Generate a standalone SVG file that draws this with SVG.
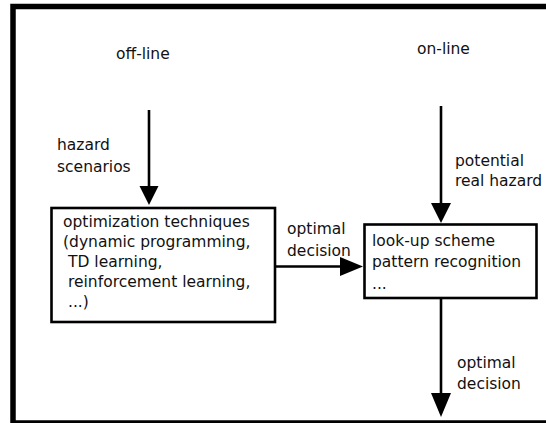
<svg xmlns="http://www.w3.org/2000/svg" width="546" height="423" viewBox="0 0 546 423">
  <style>
    text { font-family: "DejaVu Sans", Verdana, sans-serif; font-size: 15.5px; fill: #111; }
    .frame { fill: none; stroke: #000; stroke-width: 5.5; }
    .box { fill: #fff; stroke: #000; stroke-width: 2.6; }
    .edge { stroke: #000; stroke-width: 2.6; fill: none; }
    .head { fill: #000; }
  </style>
  <rect width="546" height="423" fill="#fff"/>
  <!-- outer frame, open to the right -->
  <rect class="frame" x="13" y="6.5" width="600" height="416.5"/>

  <text x="116" y="59">off-line</text>
  <text x="417" y="54">on-line</text>

  <g id="connectors">
    <!-- hazard scenarios into optimization -->
    <line class="edge" x1="149" y1="110" x2="149" y2="190"/>
    <polygon class="head" points="139.5,186 158.5,186 149,205"/>
    <text x="57" y="149.5">hazard</text>
    <text x="57" y="171.5">scenarios</text>

    <!-- optimal decision between boxes -->
    <line class="edge" x1="275" y1="266.5" x2="345" y2="266.5"/>
    <polygon class="head" points="340,257 340,276 363,266.5"/>
    <text x="287" y="233.5">optimal</text>
    <text x="287" y="255.5">decision</text>

    <!-- potential real hazard into look-up -->
    <line class="edge" x1="441" y1="106" x2="441" y2="208"/>
    <polygon class="head" points="431,203 451,203 441,223"/>
    <text x="455" y="165.5">potential</text>
    <text x="455" y="185.5">real hazard</text>

    <!-- optimal decision out -->
    <line class="edge" x1="441" y1="298" x2="441" y2="398"/>
    <polygon class="head" points="431,393 451,393 441,417"/>
    <text x="457" y="368">optimal</text>
    <text x="457" y="388.5">decision</text>
  </g>

  <g id="optimization">
    <rect class="box" x="51.5" y="208" width="223.5" height="114"/>
    <text x="63" y="227">optimization techniques</text>
    <text x="63" y="247">(dynamic programming,</text>
    <text x="68" y="267">TD learning,</text>
    <text x="68" y="287">reinforcement learning,</text>
    <text x="68" y="307">...)</text>
  </g>

  <g id="lookup">
    <rect class="box" x="364.5" y="224.5" width="172" height="73.5"/>
    <text x="372" y="246">look-up scheme</text>
    <text x="372" y="267">pattern recognition</text>
    <text x="372" y="289">...</text>
  </g>
</svg>
